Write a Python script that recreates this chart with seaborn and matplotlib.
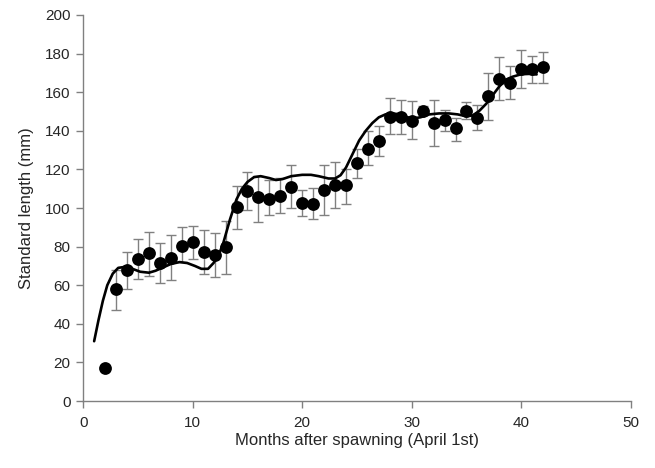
import matplotlib
matplotlib.use('Agg')
import matplotlib.pyplot as plt
import seaborn as sns
import numpy as np
import pandas as pd


# monthly mean standard length and error-bar ends (mm)
months = list(range(2, 43))
mean_len = [17, 57.8, 67.9, 73.4, 76.6, 71.5, 74.3, 80.4, 82.5, 77.2,
            75.5, 80, 100.3, 108.8, 105.9, 104.7, 106, 111, 102.4, 102,
            109.4, 112.1, 112, 123.4, 130.7, 134.7, 147.2, 147, 145.3, 150.4,
            144, 145.5, 141.3, 150.2, 146.5, 157.8, 166.8, 164.9, 171.9, 171.9,
            173.1]
upper = [17, 67.7, 77.3, 84.2, 87.8, 81.8, 86, 90, 90.8, 88.7,
         87, 93.4, 111.3, 118.9, 116.8, 114.7, 115.4, 122.4, 109.5, 110.6,
         122.4, 124, 120, 130.7, 139.7, 142.3, 156.8, 155.9, 155.4, 153,
         156, 151, 146.8, 155, 153.3, 170, 178.3, 173.6, 181.9, 178.5,
         181]
lower = [17, 47.4, 58.2, 63, 65, 61, 62.8, 72, 73.8, 66,
         64.4, 65.6, 89, 99.1, 93, 96.4, 97.4, 99.8, 95.7, 94.3,
         96.4, 100.2, 102, 115.8, 122.4, 127.2, 138.5, 138.2, 135.6, 148,
         132, 140, 134.8, 146, 140.5, 145.5, 155.9, 156.3, 162.3, 165,
         165]

# fitted growth curve
curve_x = [1.0, 1.4, 1.8, 2.2, 2.7, 3.2, 3.8, 4.5, 5.2, 6.0, 6.6, 7.2, 8.0,
           8.8, 9.5, 10.2, 10.8, 11.4, 11.9, 12.4, 12.8, 13.4, 14.0, 14.5,
           15.0, 15.6, 16.2, 17.0, 17.6, 18.2, 19.0, 20.0, 20.8, 21.5, 22.4,
           23.0, 23.5, 24.0, 24.6, 25.2, 25.8, 26.4, 27.0, 27.6, 28.2, 29.0,
           29.6, 30.2, 30.8, 31.6, 32.5, 33.4, 34.2, 35.0, 35.6, 36.2, 36.8,
           37.4, 38.0, 38.6, 39.2, 40.0, 40.8, 41.4]
curve_y = [31, 42, 52, 60, 66, 69, 69.5, 68.5, 67, 66.5, 67.5, 69, 71,
           72, 71.5, 70, 68.5, 68.5, 71.5, 76, 82, 94, 104.5, 110,
           113.5, 116, 116.5, 115.5, 114.5, 115, 116.5, 117.2, 117.2, 116.5, 115.3,
           115.3, 117, 121, 128, 135, 140, 144, 147, 148.5, 149, 148.5,
           147, 146.5, 147, 148.5, 149, 149, 148.5, 147.5, 148, 150.5, 154,
           158.5, 163, 166.5, 168, 169.3, 169.5, 169.2]

df = pd.DataFrame({'month': months, 'mean': mean_len,
                   'lo': lower, 'hi': upper})
fit = pd.DataFrame({'month': curve_x, 'length': curve_y})

sns.set_theme(style='white')
plt.rcParams['font.family'] = ['Liberation Sans', 'DejaVu Sans']

fig = plt.figure(figsize=(6.55, 4.68), dpi=100)
ax = fig.add_axes([0.127, 0.143, 0.836, 0.825])

ax.errorbar(df['month'], df['mean'],
            yerr=[df['mean'] - df['lo'], df['hi'] - df['mean']],
            fmt='none', ecolor='#808080', elinewidth=1.0, capsize=3.5,
            capthick=1.0, zorder=1)
sns.lineplot(data=fit, x='month', y='length', ax=ax, color='black',
             linewidth=1.9, zorder=2, sort=True)
sns.scatterplot(data=df, x='month', y='mean', ax=ax, color='black',
                s=85, linewidth=0, zorder=3)

ax.set_xlim(0, 50)
ax.set_ylim(0, 200)
ax.set_xticks(np.arange(0, 51, 10))
ax.set_yticks(np.arange(0, 201, 20))
ax.set_xlabel('Months after spawning (April 1st)', fontsize=12, labelpad=2)
ax.set_ylabel('Standard length (mm)', fontsize=12, labelpad=8)

for side in ['top', 'right']:
    ax.spines[side].set_visible(False)
for side in ['left', 'bottom']:
    ax.spines[side].set_color('#808080')
    ax.spines[side].set_linewidth(1.0)
ax.tick_params(axis='both', which='major', direction='out', length=5,
               width=1.0, color='#808080', labelsize=11,
               left=True, bottom=True)
ax.tick_params(axis='x', pad=6)
ax.tick_params(axis='y', pad=4)

fig.savefig('out.png', dpi=100)
